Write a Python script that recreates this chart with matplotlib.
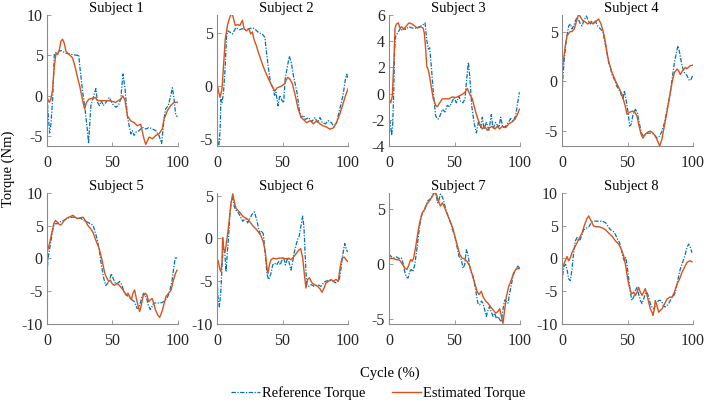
import matplotlib
matplotlib.use("Agg")
import matplotlib.pyplot as plt
import numpy as np

plt.rcParams["font.family"] = ["Liberation Serif", "DejaVu Serif"]
plt.rcParams["axes.unicode_minus"] = False

s1_ref = [(0, 0.0), (1, -2.5), (2, -4.6), (3, -3.5), (4.3, -0.4), (5.6, 5.2), (6.3, 5.3), (8, 5.4), (10.7, 5.6),
          (14, 5.3), (19.5, 5.1), (23.4, 5.0), (24.2, 5.1), (25, 3.7), (27, 0.8), (29, -1.6), (31, -4.5), (31.7, -5.9),
          (33.5, -1.2), (35, -0.4), (37.3, 0.9), (38.6, -0.8), (40, -1.2), (41.5, -0.6), (43, -1.2), (45, -0.8),
          (47.5, -0.2), (50, -1.0), (52.5, -1.4), (54.5, -1.2), (56.3, -0.4), (58, 2.7), (59.6, 0.8), (61.4, -2.5),
          (62.7, -3.7), (64, -4.7), (65.2, -4.3), (66.5, -4.9), (67.8, -4.5), (70.3, -4.3), (72.8, -3.9), (75.4, -4.1),
          (78, -3.9), (80.5, -4.1), (83, -4.3), (85.5, -4.9), (87.5, -5.9), (89.3, -2.9), (90.6, -1.6), (92.6, -1.2),
          (94.4, 0.0), (95.7, 1.0), (97, -0.4), (98.2, -2.3), (99.5, -2.6)]
s1_est = [(0, -0.2), (1.8, -0.8), (3, -0.4), (4.3, 0.8), (5.6, 3.7), (6.9, 5.3), (8.1, 5.1), (9.4, 5.7), (10.7, 6.8),
          (11.9, 7.0), (13.2, 6.5), (14.5, 5.5), (17, 5.1), (19.5, 4.7), (21.6, 3.5), (23.4, 2.2), (25, 1.2),
          (27, -0.4), (28.7, -1.6), (30.2, -0.8), (32, -0.4), (34.8, -0.3), (37, -0.2), (38.6, -0.6), (42, -0.6),
          (47.5, -0.6), (52.5, -0.8), (56.3, -0.4), (58, 0.0), (59.6, -0.6), (61.4, -2.5), (64, -3.1), (66.5, -3.3),
          (69, -3.7), (71.5, -3.5), (74, -5.3), (75.4, -6.0), (78, -5.1), (80.5, -5.3), (83, -4.9), (85.5, -4.7),
          (88, -4.1), (89.3, -2.9), (92, -1.8), (94.4, -1.2), (97, -0.8), (99.5, -0.8)]

s2_ref = [(0, -1.9), (0.5, -5.4), (1.3, -5.8), (2.3, -4.4), (3, -1.3), (3.8, -1.6), (5, -0.6), (6.3, 1.9), (7.3, 4.7),
          (8.3, 5.2), (10.6, 5.0), (11.8, 4.9), (14.4, 5.5), (17, 5.3), (19.4, 5.4), (22, 5.3), (24.4, 5.4),
          (27, 5.5), (29.5, 5.3), (32, 5.0), (34.5, 4.9), (36.5, 4.6), (37.5, 3.5), (39, 1.9), (40.8, 0.3),
          (42.5, -0.2), (44, -0.9), (45, -0.6), (46.6, -1.9), (47.9, -0.9), (49.6, -1.4), (50.9, -1.6), (52, 0.6),
          (53.4, 1.6), (55.2, 2.8), (56.7, 2.2), (58.4, 0.9), (61, -0.6), (62.7, -2.2), (64.2, -3.0), (66, -2.8),
          (67.3, -3.2), (69.8, -3.0), (72.3, -3.4), (74.8, -3.0), (76.8, -3.5), (78.6, -3.0), (80.4, -3.5),
          (82.9, -3.6), (84.9, -3.3), (87.4, -3.5), (89.4, -3.9), (91.2, -3.5), (93.7, -2.2), (96.2, -0.9),
          (98, 0.6), (99, 1.1), (100, 0.6)]
s2_est = [(0, 0.2), (1.3, -0.6), (2.3, -1.1), (3.8, -0.3), (5, 1.9), (6.3, 4.4), (8.1, 5.8), (9.8, 6.5), (11.3, 6.9),
          (12.3, 6.5), (13.9, 5.7), (15.6, 5.8), (17.4, 5.7), (19.4, 6.2), (20.7, 5.4), (22.4, 5.2), (24.4, 5.4),
          (25.7, 4.9), (27, 5.1), (28.2, 4.4), (30, 3.8), (32, 3.0), (34.5, 2.1), (37, 1.3), (39.5, 0.6), (42, 0.0),
          (44, -0.5), (45.8, -0.2), (47.9, -0.1), (49.6, 0.0), (51.6, 0.2), (52.6, 0.5), (54, 0.8), (55.8, 0.6),
          (57.5, 0.2), (59.5, -0.8), (62, -2.2), (64.2, -3.0), (66, -3.2), (68.5, -3.5), (71, -3.3), (73.6, -3.6),
          (76.1, -3.3), (78.6, -3.6), (81, -3.8), (83.6, -3.9), (86, -4.1), (88.7, -4.0), (91.2, -3.5),
          (93.7, -2.7), (96.2, -1.7), (98.2, -0.9), (100, -0.3)]

s3_ref = [(0, -2.2), (0.8, -2.1), (1.5, -2.7), (2, -3.2), (2.8, -2.4), (3.6, 0.1), (4.3, 3.4), (5.1, 4.4), (6.4, 4.6),
          (7.6, 4.8), (8.9, 5.0), (10.2, 4.8), (11.5, 5.0), (12.7, 4.9), (15.3, 5.1), (17.8, 5.0), (20.4, 5.0),
          (22.9, 5.1), (25.4, 5.2), (27.5, 5.4), (28.8, 4.1), (30, 3.4), (31, 3.5), (32.3, 2.1), (33.8, 0.1),
          (35.6, -1.7), (37.4, -1.95), (38.9, -1.7), (40.7, -1.2), (42.7, -1.4), (44.5, -0.9), (46.3, -1.0),
          (47.8, -0.7), (49.6, -0.3), (51.4, -0.7), (53.4, -0.2), (54.7, -0.6), (56.5, -0.7), (58, -0.4),
          (59.3, 1.1), (60.6, 2.4), (61.8, 1.1), (63.1, -0.9), (64.9, -2.2), (66.7, -3.0), (68.2, -2.2), (70, -2.6),
          (71.2, -1.8), (72.5, -2.7), (74.3, -2.2), (76.3, -2.8), (78.1, -1.6), (79.4, -2.7), (81.4, -2.2),
          (84, -2.6), (85.2, -1.8), (87, -2.6), (89, -2.5), (91.1, -2.2), (92.9, -1.9), (94.7, -2.1), (96.7, -1.7),
          (97.9, -0.9), (99.5, 0.1)]
s3_est = [(0, -0.4), (1.3, -0.7), (2.5, -0.2), (3.8, 2.6), (4.6, 5.0), (5.6, 5.3), (7.1, 5.4), (8.4, 5.0),
          (9.7, 5.1), (11.5, 4.9), (12.7, 5.1), (15.3, 5.4), (17.8, 5.3), (20.4, 5.1), (21.6, 5.0), (24.2, 5.1),
          (26, 5.0), (27, 4.6), (28, 3.4), (28.8, 2.1), (30, 1.8), (31, 1.3), (32.6, 0.3), (33.8, -0.4),
          (35.6, -0.9), (36.9, -1.0), (38.7, -0.7), (40.7, -0.4), (43.3, -0.4), (45.8, -0.4), (48.3, -0.25),
          (50.9, -0.3), (53.4, -0.2), (56, -0.05), (58, 0.1), (59.8, 0.4), (61.6, -0.05), (63.6, -0.4),
          (65.6, -1.2), (67.4, -1.8), (69.2, -2.3), (71.2, -2.7), (73, -2.5), (75, -2.8), (76.8, -2.6),
          (78.9, -2.5), (80.9, -2.7), (82.7, -2.5), (84.5, -2.7), (86.5, -2.5), (89, -2.6), (91.6, -2.3),
          (94.1, -2.15), (96.2, -1.95), (98, -1.6), (99.5, -1.2)]

s4_ref = [(0, -1.5), (0.8, 0.6), (1.8, 2.3), (2.8, 3.6), (3.8, 4.6), (5.1, 5.6), (6.4, 5.8), (7.6, 5.3), (8.9, 5.6),
          (10.2, 6.1), (11.5, 6.5), (12.7, 6.2), (14, 5.8), (15.3, 5.6), (16.5, 6.1), (18.6, 6.6), (19.8, 6.2),
          (21.6, 5.8), (22.9, 6.1), (24.2, 5.9), (25.4, 6.1), (27.2, 5.6), (29.3, 5.3), (31.3, 5.0), (32.6, 4.0),
          (34.4, 2.9), (35.6, 1.9), (36.9, 1.4), (38.2, 0.7), (40, 0.2), (41.5, -0.4), (43.3, -0.8), (44.5, -1.1),
          (46.6, -1.8), (47.6, -0.9), (49.1, -2.0), (50.4, -3.1), (51.7, -4.5), (52.9, -4.3), (54.2, -3.3),
          (56, -2.8), (57.3, -3.1), (58.5, -3.8), (59.8, -4.7), (61, -5.3), (62.3, -5.5), (64.9, -5.2),
          (67.4, -5.2), (70, -5.3), (72.5, -5.7), (74.6, -5.5), (76.3, -5.0), (78.1, -4.2), (80.2, -2.8),
          (82.2, -1.5), (84, 0.2), (85.8, 1.9), (87.3, 2.9), (88.5, 3.6), (89.8, 2.9), (91.6, 1.6), (93.4, 0.9),
          (95.4, 0.6), (97.2, 0.1), (98.5, 0.2), (100, 0.7)]
s4_est = [(0, 1.1), (1.3, 2.3), (2.5, 3.6), (3.8, 4.6), (5.9, 5.0), (7.6, 5.05), (9.4, 5.3), (10.9, 6.0), (12.7, 6.8),
          (14, 6.5), (16, 6.1), (17.8, 6.0), (19.6, 5.8), (21.6, 6.0), (23.7, 5.8), (25.4, 6.0), (27.9, 6.3),
          (29.8, 5.8), (31.3, 5.1), (33.1, 4.0), (34.4, 2.8), (36.1, 1.8), (38.2, 0.9), (40.7, 0.1), (43.3, -0.6),
          (45.8, -1.3), (48.3, -2.5), (49.6, -3.3), (51.7, -3.1), (53.4, -3.0), (55.2, -3.0), (57.3, -3.5),
          (58.5, -4.3), (60.3, -5.3), (61.8, -5.7), (63.6, -5.3), (65.4, -5.1), (67.4, -5.0), (69.5, -5.2),
          (71.2, -5.5), (73, -6.0), (74.6, -6.5), (76.3, -5.8), (78.1, -4.5), (80.2, -3.0), (82.2, -1.5),
          (84, -0.1), (85.8, 0.9), (87.8, 1.25), (89, 1.1), (90.3, 0.7), (92.1, 1.1), (94.1, 1.4), (95.4, 1.3),
          (98, 1.6), (100, 1.65)]

s5_ref = [(0, -2.5), (0.8, 0.0), (2, 1.5), (3.3, 3.0), (4.6, 4.6), (5.9, 5.3), (7.6, 5.3), (10.2, 5.6), (12.7, 5.8),
          (15.3, 6.1), (17.8, 6.3), (20.4, 6.3), (22.9, 6.1), (25.4, 6.2), (28, 5.8), (30.5, 5.6), (33.1, 5.3),
          (35.1, 5.1), (36.4, 4.3), (38.2, 3.0), (39.9, 1.3), (41.5, -1.0), (43.3, -3.0), (44.8, -4.1),
          (46.3, -3.8), (47.8, -3.3), (49.1, -2.3), (50.4, -3.0), (52.2, -3.8), (53.9, -3.8), (55.5, -3.5),
          (57.3, -4.1), (59, -5.3), (60.6, -5.6), (62.3, -5.8), (64.9, -6.3), (66.7, -6.6), (68.7, -7.6),
          (70, -7.6), (71.2, -6.8), (72.5, -5.8), (73.8, -5.3), (75, -5.6), (76.3, -6.3), (77.6, -7.3),
          (78.9, -7.8), (80.2, -7.3), (81.4, -6.8), (84, -6.8), (86.5, -6.8), (89.1, -6.6), (91.6, -6.1),
          (93.6, -5.1), (95.4, -3.5), (96.7, -1.5), (98, 0.25), (99.2, 0.0)]
s5_est = [(0, 1.0), (1.3, 1.8), (2.5, 2.8), (3.8, 4.0), (5.1, 5.3), (6.4, 5.8), (7.6, 5.6), (8.9, 5.3), (10.2, 5.1),
          (11.5, 5.3), (12.7, 5.7), (15.3, 6.2), (17.8, 6.4), (19.8, 6.6), (21.6, 6.3), (23.4, 6.1), (25.4, 6.2),
          (27.5, 6.3), (29.3, 5.8), (31, 5.1), (33.1, 4.6), (35.1, 4.0), (36.9, 3.0), (38.2, 2.3), (39.4, 1.8),
          (40.7, 0.8), (42, -0.25), (43.3, -1.5), (44.5, -2.5), (45.8, -3.0), (47.1, -3.5), (48.3, -3.3),
          (49.6, -3.8), (51.4, -4.1), (53.4, -3.8), (55.2, -4.1), (57.3, -4.6), (59, -5.1), (60.6, -5.6),
          (61.8, -5.3), (63.1, -5.8), (64.4, -6.3), (65.6, -5.3), (66.9, -4.8), (68.2, -6.1), (70, -7.6),
          (70.7, -8.1), (71.8, -7.3), (73.3, -5.8), (75, -5.3), (76.3, -5.6), (77.6, -6.6), (78.9, -6.3),
          (80.2, -6.1), (81.4, -6.8), (82.7, -7.8), (84.5, -8.6), (86, -9.0), (87.8, -8.1), (89.1, -7.1),
          (90.8, -5.8), (92.9, -5.3), (94.7, -4.8), (96.2, -3.5), (98, -2.3), (99.2, -1.8)]

s6_ref = [(0, -4.6), (0.8, -6.9), (1.8, -8.0), (2.8, -6.5), (3.8, -3.5), (4.8, -0.8), (5.9, -1.6), (6.9, -3.9),
          (7.9, -1.6), (8.9, 0.3), (9.9, 3.0), (10.9, 4.3), (12, 4.7), (13.2, 3.7), (14.5, 3.3), (15.8, 3.1),
          (17, 2.8), (18.3, 2.4), (19.6, 2.0), (20.9, 2.2), (22.1, 2.3), (23.4, 1.8), (24.7, 2.2), (26.7, 2.8),
          (28.5, 3.1), (30.3, 2.2), (31.8, 1.1), (32.8, 0.5), (34.1, 0.9), (35.4, 0.5), (36.9, -2.0), (38.2, -4.2),
          (39.4, -4.8), (41, -4.2), (42.5, -3.1), (44, -2.9), (45.5, -3.1), (47.1, -2.7), (48.3, -3.1),
          (49.6, -2.5), (50.9, -2.2), (52.2, -3.1), (53.9, -2.3), (55.2, -2.9), (56.5, -3.7), (57.8, -2.7),
          (59, -1.6), (60.3, -0.8), (61.6, -0.1), (62.8, 0.3), (64, 1.4), (65.4, 2.6), (66.4, 1.25), (67.4, -2.3),
          (68.4, -5.4), (70, -5.6), (71.8, -5.4), (74.3, -5.6), (76.8, -5.4), (79.4, -5.6), (81.2, -5.2),
          (83.2, -5.0), (85.8, -4.9), (88.3, -5.0), (90.8, -5.2), (93.4, -4.8), (94.7, -3.5), (95.9, -2.0),
          (97.5, -0.6), (98.5, -1.2), (99.7, -1.6)]
s6_est = [(0, -2.3), (1, -2.7), (2, -3.5), (3, -3.9), (3.8, -2.7), (4.3, 0.1), (5.1, -1.2), (6.1, -1.6), (7.1, -0.6),
          (8.1, 0.5), (9.4, 2.2), (10.7, 4.1), (12, 5.2), (13.2, 4.3), (14.5, 3.5), (15.8, 3.3), (17.6, 3.0),
          (19.6, 2.6), (21.6, 2.4), (23.7, 2.2), (25.7, 1.8), (27.7, 1.4), (29.8, 1.1), (31.8, 0.7), (33.6, 0.3),
          (35.4, -0.45), (36.9, -1.6), (37.9, -3.1), (38.9, -4.1), (40, -3.1), (41.2, -2.5), (43, -2.3),
          (45, -2.4), (47.6, -2.3), (50.1, -2.3), (52.7, -2.4), (54.7, -2.3), (56.5, -2.5), (58.3, -2.2),
          (60.3, -1.8), (62.3, -1.4), (63.9, -1.2), (65.4, -2.3), (66.7, -4.2), (67.9, -5.8), (69.2, -4.8),
          (70.5, -4.6), (72.5, -5.2), (74.3, -5.4), (76.8, -5.6), (78.6, -5.9), (80.2, -6.3), (81.7, -5.8),
          (83.2, -5.2), (85.2, -5.0), (87, -4.8), (88.8, -5.0), (90.8, -4.8), (92.6, -5.0), (93.9, -3.5),
          (95.4, -2.3), (97.2, -2.2), (98.5, -2.5), (99.7, -2.7)]

s7_ref = [(0, 0.9), (1.8, 0.65), (3.6, 0.55), (5.6, 0.65), (7.6, 0.5), (9.4, 0.55), (10.7, 0.1), (12, -0.7),
          (13.2, -1.2), (14.5, -1.3), (15.8, -0.7), (17, -0.5), (18.3, -0.7), (19.6, -0.1), (20.9, 1.0), (22.1, 2.2),
          (23.4, 3.5), (24.7, 4.4), (26, 4.7), (27.2, 5.0), (28.5, 5.5), (29.8, 5.8), (31, 5.9), (32.3, 6.1),
          (33.6, 6.4), (34.9, 6.6), (36.1, 6.2), (37.2, 5.6), (38.2, 5.9), (39.2, 6.4), (40.5, 6.2), (41.7, 5.8),
          (43.3, 5.0), (45, 4.4), (46.8, 3.8), (48.3, 3.2), (50.1, 2.6), (51.9, 1.6), (53.4, 0.7), (55.2, 0.4),
          (56.5, -0.4), (57.8, -0.05), (59, 1.3), (60.3, 0.85), (61.6, -0.2), (62.8, -0.8), (64.1, -1.1),
          (65.4, -1.9), (66.7, -2.8), (67.9, -3.6), (69.2, -3.75), (70.5, -3.4), (71.8, -3.6), (73, -4.2),
          (74.3, -4.8), (75.6, -4.2), (76.8, -3.9), (78.1, -4.4), (79.4, -4.8), (80.7, -4.5), (81.9, -5.0),
          (83.2, -4.8), (84.5, -5.1), (85.8, -5.3), (87, -4.2), (88.3, -3.3), (89.6, -3.45), (90.8, -3.6),
          (92.1, -2.7), (93.4, -1.9), (94.7, -1.1), (95.9, -0.7), (97.2, -0.4), (98.5, -0.2), (99.7, -0.4)]
s7_est = [(0, 0.5), (3, 0.5), (5.6, 0.4), (8.1, 0.35), (10.7, -0.1), (12.2, -0.4), (13.7, -0.5), (15.3, -0.05),
          (16.5, 0.4), (17.8, 0.25), (18.8, 0.55), (20.4, 1.6), (22.1, 2.9), (23.4, 3.8), (25.4, 4.7), (27.2, 5.0),
          (29, 5.5), (31, 5.8), (33.1, 6.2), (34.9, 6.55), (36.1, 6.4), (37.7, 5.8), (39.2, 5.3), (40.7, 5.6),
          (42, 5.3), (43.3, 4.9), (45, 4.4), (47.1, 3.8), (48.9, 3.2), (50.6, 2.4), (52.4, 1.6), (53.9, 0.9),
          (55.7, 0.55), (57.8, 0.45), (59.5, 0.25), (61.6, -0.2), (63.6, -1.0), (65.4, -1.75), (67.2, -2.5),
          (68.7, -2.8), (70.5, -2.5), (71.8, -3.0), (73.8, -3.4), (75.6, -3.6), (77.4, -3.9), (79.4, -4.2),
          (81.4, -4.5), (83.2, -4.35), (84.5, -4.1), (85.8, -4.8), (87, -5.45), (88.3, -4.2), (89.6, -3.0),
          (91.3, -2.1), (93.4, -1.45), (95.2, -0.8), (97.2, -0.45), (99.7, -0.4)]

s8_ref = [(0, -3.9), (0.8, -2.1), (1.8, -1.1), (2.8, -0.9), (3.8, -1.6), (5.1, -3.1), (6.4, -3.4), (7.6, -1.6),
          (8.9, 0.9), (10.2, 2.7), (11.5, 3.2), (12.7, 2.7), (14, 2.9), (15.3, 3.7), (16.5, 4.4), (17.8, 4.5),
          (19.1, 4.7), (20.4, 4.8), (21.6, 5.2), (22.9, 5.6), (25.4, 5.7), (28, 5.7), (30.5, 5.7), (33.1, 5.5),
          (35.1, 4.9), (36.9, 4.4), (38.9, 4.2), (40.7, 3.7), (42.5, 2.9), (44, 2.4), (45.3, 1.4), (46.6, 0.15),
          (47.6, -0.35), (48.6, 0.15), (49.6, -0.9), (50.9, -3.1), (52.2, -5.2), (53.4, -6.4), (54.7, -5.9),
          (56, -4.9), (57.3, -4.4), (58.5, -5.4), (59.8, -6.4), (61.1, -6.9), (62.3, -6.2), (63.6, -5.4),
          (64.9, -5.15), (66.2, -5.9), (67.4, -6.9), (68.7, -7.4), (70, -7.7), (71.2, -7.2), (72.5, -6.7),
          (73.8, -6.4), (75.1, -6.4), (76.3, -6.7), (77.6, -7.3), (78.9, -7.4), (80.2, -7.2), (81.4, -6.9),
          (82.7, -6.4), (84, -5.9), (85.2, -5.7), (86.5, -5.2), (87.8, -3.9), (89.1, -2.6), (90.3, -1.6),
          (91.6, -0.9), (92.9, -0.1), (94.1, 0.65), (95.4, 1.7), (96.7, 2.2), (98, 1.7), (99.2, 0.9)]
s8_est = [(0, -1.6), (1.3, -0.9), (2.5, -0.35), (3.8, 0.3), (5.1, -0.35), (6.4, 0.1), (7.6, 0.9), (8.9, 1.4),
          (10.2, 1.9), (11.5, 2.4), (12.7, 2.9), (14, 3.4), (15.3, 3.9), (16.5, 4.7), (17.8, 5.45), (19.1, 6.1),
          (20.4, 6.5), (21.6, 6.0), (22.9, 5.45), (24.2, 4.95), (26.2, 4.85), (28, 4.85), (30.5, 4.7), (33.1, 4.4),
          (35.6, 3.9), (38.2, 3.4), (40.7, 2.7), (43.3, 2.2), (45.3, 1.4), (47.1, 0.4), (48.6, -1.1), (50.1, -3.1),
          (51.7, -4.6), (53.2, -5.4), (54.7, -5.15), (56, -5.65), (57.3, -5.15), (58.5, -4.4), (59.8, -5.15),
          (61.1, -5.65), (62.3, -5.15), (63.6, -4.6), (64.9, -5.6), (66.2, -6.7), (67.4, -7.7), (68.7, -8.2),
          (69.5, -8.7), (70.5, -7.7), (71.2, -6.4), (72.5, -7.2), (73.8, -8.2), (75.1, -7.9), (76.3, -7.7),
          (77.6, -7.2), (78.9, -6.7), (80.2, -6.2), (82.2, -5.9), (84, -5.9), (85.8, -5.15), (87.8, -3.9),
          (89.8, -3.1), (91.6, -2.1), (93.4, -1.4), (95.4, -0.6), (97.5, -0.35), (99.2, -0.5)]

subjects = ["Subject 1", "Subject 2", "Subject 3", "Subject 4",
            "Subject 5", "Subject 6", "Subject 7", "Subject 8"]
ref_traces = [s1_ref, s2_ref, s3_ref, s4_ref, s5_ref, s6_ref, s7_ref, s8_ref]
est_traces = [s1_est, s2_est, s3_est, s4_est, s5_est, s6_est, s7_est, s8_est]
ylims = [(-6.2, 10), (-5.7, 6.7), (-4, 6), (-6.5, 6.7),
         (-10, 10), (-10, 5.3), (-5.5, 6.5), (-10, 10)]
yticks = [[-5, 0, 5, 10], [-5, 0, 5], [-4, -2, 0, 2, 4, 6], [-5, 0, 5],
          [-10, -5, 0, 5, 10], [-10, -5, 0, 5], [-5, 0, 5], [-10, -5, 0, 5, 10]]

BLUE = "#0072BD"
ORANGE = "#D95319"
FS = 10.5

fig = plt.figure(figsize=(7.08, 4.08), dpi=100)
W, H = 708, 408
lefts = [47, 217, 389, 562]
tops = [15, 193]
aw, ah = 131, 131

for i, name in enumerate(subjects):
    r, c = divmod(i, 4)
    ax = fig.add_axes([lefts[c] / W, 1 - (tops[r] + ah) / H, aw / W, ah / H])
    rx, ry = np.array(ref_traces[i]).T
    ex, ey = np.array(est_traces[i]).T
    ax.plot(rx, ry, color=BLUE, lw=0.9, ls=(0, (3.5, 1.2, 1, 1.2)), label="Reference Torque")
    ax.plot(ex, ey, color=ORANGE, lw=1.0, label="Estimated Torque")
    ax.set_xlim(0, 100)
    ax.set_ylim(*ylims[i])
    ax.set_xticks([0, 50, 100])
    ax.set_yticks(yticks[i])
    ax.set_title(name, fontsize=FS, pad=2, x=0.53)
    for s in ["top", "right"]:
        ax.spines[s].set_visible(False)
    for s in ["left", "bottom"]:
        ax.spines[s].set_color("#8c8c8c")
        ax.spines[s].set_linewidth(0.8)
    ax.tick_params(direction="in", length=3, width=0.6, color="#8c8c8c",
                   labelsize=FS + 1, labelcolor="#262626", pad=3)
    ax.tick_params(axis="x", pad=6.5)
    if i == 0:
        handles, labels = ax.get_legend_handles_labels()

fig.text(0.011, 0.586, "Torque (Nm)", rotation=90, ha="center", va="center", fontsize=FS)
fig.text(0.55, 0.086, "Cycle (%)", ha="center", va="center", fontsize=FS)
fig.legend(handles, labels, loc="center", bbox_to_anchor=(0.534, 0.037), ncol=2,
           frameon=False, fontsize=FS, handlelength=2.0, handletextpad=0.15, columnspacing=1.8)

fig.savefig("out.png", dpi=100)
